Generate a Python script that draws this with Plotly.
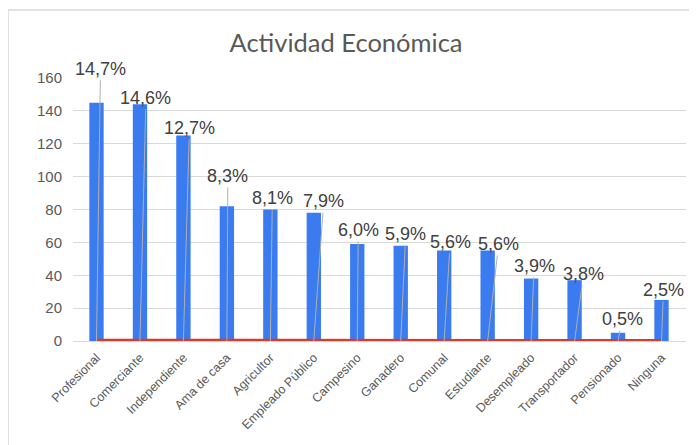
import plotly.graph_objects as go

categories = ["Profesional", "Comerciante", "Independiente", "Ama de casa", "Agricultor",
              "Empleado Público", "Campesino", "Ganadero", "Comunal", "Estudiante",
              "Desempleado", "Transportador", "Pensionado", "Ninguna"]
counts = [145, 144, 125, 82, 80, 78, 59, 58, 55, 55, 38, 37, 5, 25]
shares = [0.147, 0.146, 0.127, 0.083, 0.081, 0.079, 0.060, 0.059, 0.056, 0.056,
          0.039, 0.038, 0.005, 0.025]
share_labels = ["14,7%", "14,6%", "12,7%", "8,3%", "8,1%", "7,9%", "6,0%", "5,9%",
                "5,6%", "5,6%", "3,9%", "3,8%", "0,5%", "2,5%"]
y_ticks = [0, 20, 40, 60, 80, 100, 120, 140, 160]

# manual label placement (pixel offsets from the line point), like moved Excel labels
label_dx = [4, 6, 6, 1, 2, 10, 1, 5, 6, 11, 3, 9, 4, 2]
label_dy = [-272, -243, -213, -165, -143, -140, -111, -107, -99, -97, -75, -67, -22, -51]

# the page body has an 8px default margin, so the figure is drawn 8px smaller
OFF = 8
W, H = 697 - OFF, 445 - OFF
L, R, T, B = 73 - OFF, 11, 78 - OFF, 104

fig = go.Figure()
fig.add_trace(go.Bar(
    x=categories, y=counts, width=0.33,
    marker=dict(color="#3a7bef", line=dict(width=0)),
    hoverinfo="skip", showlegend=False,
))
fig.add_trace(go.Scatter(
    x=categories, y=shares, mode="lines", cliponaxis=False,
    line=dict(color="#d93a2b", width=4),
    hoverinfo="skip", showlegend=False,
))

for c, s, t, dx, dy in zip(categories, shares, share_labels, label_dx, label_dy):
    fig.add_annotation(
        x=c, y=s, text=t, showarrow=True, arrowhead=0, arrowwidth=1,
        arrowcolor="#b0b0b0", ax=dx, ay=dy, standoff=0,
        font=dict(family="Liberation Sans, Arial, sans-serif", size=18, color="#404040"),
    )

pw = W - L - R
ph = H - T - B
bx0, by0 = 8 - OFF, 10 - OFF  # chart border top-left in figure px
fig.add_shape(type="rect", xref="paper", yref="paper",
              x0=(bx0 - L) / pw, x1=(W + 20 - L) / pw,
              y0=-(H + 20 - (H - B)) / ph, y1=((H - B) - by0) / ph,
              line=dict(color="#d9d9d9", width=1.5), fillcolor="rgba(0,0,0,0)", layer="below")

fig.update_layout(
    width=W, height=H,
    margin=dict(l=L, r=R, t=T, b=B),
    paper_bgcolor="white", plot_bgcolor="white",
    title=dict(text="Actividad Económica", xref="container", yref="container",
               x=(346 - OFF) / W, xanchor="center", y=1 - (43 - OFF) / H, yanchor="middle",
               font=dict(family="Lato, Open Sans, sans-serif", size=25.5, color="#595959")),
    xaxis=dict(tickangle=-45, showgrid=False, showline=False, ticks="", ticklabelstandoff=6,
               tickfont=dict(family="Liberation Sans, Arial, sans-serif", size=12.5, color="#595959")),
    yaxis=dict(range=[0, 160], tickvals=y_ticks, showgrid=True, gridcolor="#d9d9d9",
               gridwidth=1, zeroline=True, zerolinecolor="#d9d9d9", zerolinewidth=1,
               showline=False, ticks="", ticklabelstandoff=10,
               tickfont=dict(family="Liberation Sans, Arial, sans-serif", size=15, color="#595959")),
)

fig.write_html("out.html")
